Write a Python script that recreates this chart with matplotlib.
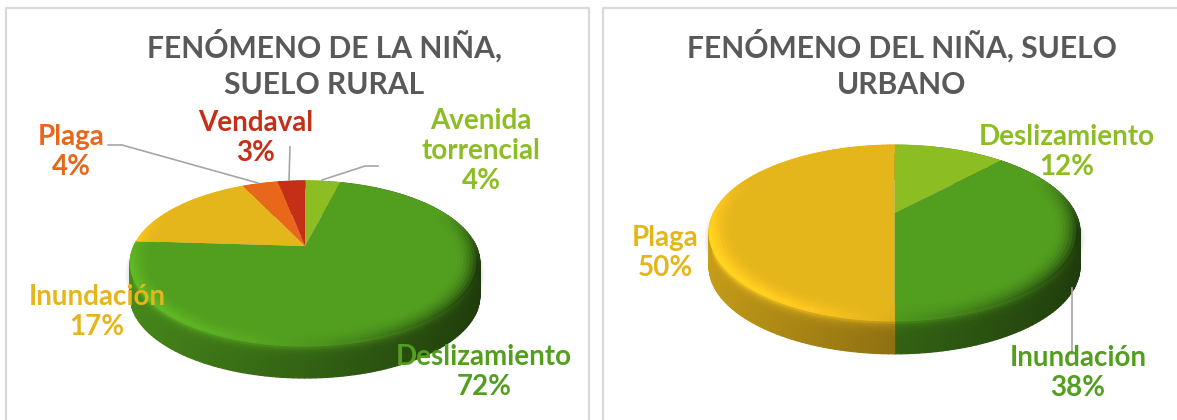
import numpy as np
import matplotlib
matplotlib.use('Agg')
import matplotlib.pyplot as plt
from matplotlib.collections import PolyCollection
from matplotlib.colors import to_rgb
from matplotlib.patches import Ellipse

plt.rcParams['font.family'] = ['Lato', 'DejaVu Sans']

# grafico izquierdo
rural_names = ['Avenida\ntorrencial', 'Deslizamiento', 'Inundación', 'Plaga', 'Vendaval']
rural_values = [4, 72, 17, 4, 3]
rural_colors = ['#8CBD22', '#529E1F', '#E5B51C', '#E8671A', '#C52F17']
rural_title = 'FENÓMENO DE LA NIÑA,\nSUELO RURAL'

# grafico derecho
urban_names = ['Deslizamiento', 'Inundación', 'Plaga']
urban_values = [12, 38, 50]
urban_colors = ['#8CBD22', '#529E1F', '#E5B51C']
urban_title = 'FENÓMENO DEL NIÑA, SUELO\nURBANO'

rural_label_pos = [(481, 151), (484, 372), (97, 312), (71, 152), (256, 138)]
urban_label_pos = [(1067, 152), (1078, 373), (665, 253)]


def project(theta, r, geo):
    # disco unidad -> elipse con perspectiva, theta en sentido horario desde arriba
    cx, cy, a, b, p = geo
    u = r * np.sin(theta)
    v = r * np.cos(theta)
    d = 1 + p * v
    return cx + a * u / d, cy - b * v / d


def shade(color, f):
    return tuple(np.clip(np.array(to_rgb(color)) * f, 0, 1))


def draw_pie(ax, values, colors, geo, depth, shadow_y):
    cx, cy, a, b, p = geo
    rx = a / np.sqrt(1 - p ** 2)
    ry = b / (1 - p ** 2)
    mid_y = cy - p * ry

    # sombra
    for k in range(10):
        ax.add_patch(Ellipse((cx, mid_y + shadow_y), 2 * rx + 10 - k * 2, 2 * ry + 10 - k * 2,
                             fc='#8A8A9A', ec='none', alpha=0.05, zorder=1))

    edges = np.cumsum([0] + list(values)) / sum(values) * 2 * np.pi
    side_polys, side_cols, ring_polys, ring_cols = [], [], [], []
    layers = 14
    for i, col in enumerate(colors):
        n = max(int((edges[i + 1] - edges[i]) / np.radians(1.5)), 2)
        th = np.linspace(edges[i], edges[i + 1], n + 1)

        # pared lateral
        x, y = project(th, 1, geo)
        for j in range(n):
            t = (np.sin((th[j] + th[j + 1]) / 2) + 1) / 2
            rim = 1.18 - 0.85 * t ** 2
            wall = 0.88 - 0.52 * t
            for k in range(layers):
                d0, d1 = depth * k / layers, depth * (k + 1) / layers
                side_polys.append([(x[j], y[j] + d0), (x[j + 1], y[j + 1] + d0),
                                   (x[j + 1], y[j + 1] + d1), (x[j], y[j] + d1)])
                side_cols.append(shade(col, wall + (rim - wall) * np.exp(-k / 1.6)))

        # cara superior
        ax.fill(np.r_[cx, x], np.r_[cy, y], color=col, lw=0, zorder=4)

        # bisel del borde
        rings = np.linspace(0.86, 1.0, 9)
        for j in range(n):
            mid = (th[j] + th[j + 1]) / 2
            t = (np.sin(mid) + 1) / 2
            strength = np.clip((0.45 - np.cos(mid)) / 0.7, 0, 1)
            gain = 1.18 - 0.85 * t ** 2
            for k in range(8):
                x0, y0 = project(th[j:j + 2], rings[k], geo)
                x1, y1 = project(th[j:j + 2], rings[k + 1], geo)
                ring_polys.append([(x0[0], y0[0]), (x0[1], y0[1]), (x1[1], y1[1]), (x1[0], y1[0])])
                s = (k / 7) ** 2
                ring_cols.append(shade(col, 1 + strength * s * (gain - 1)))

    ax.add_collection(PolyCollection(side_polys, facecolors=side_cols, edgecolors=side_cols,
                                     linewidths=0.9, zorder=3))
    ax.add_collection(PolyCollection(ring_polys, facecolors=ring_cols, edgecolors=ring_cols,
                                     linewidths=0.6, zorder=5))


def draw_labels(ax, names, values, colors, positions):
    for name, val, col, (x, y) in zip(names, values, colors, positions):
        ax.text(x, y, f'{name}\n{val}%', color=col, ha='center', va='center', fontsize=20,
                fontweight='bold', linespacing=1.2, zorder=8)


fig = plt.figure(figsize=(11.77, 4.2), dpi=100)
ax = fig.add_axes([0, 0, 1, 1])
ax.set_xlim(0, 1177)
ax.set_ylim(420, 0)
ax.axis('off')

# marcos de las tarjetas
frame = '#D9D9D9'
ax.plot([5.5, 5.5, 589, 589], [420, 7.5, 7.5, 420], color=frame, lw=1.6, zorder=0)
ax.plot([602.5, 602.5, 1177], [420, 7.5, 7.5], color=frame, lw=1.6, zorder=0)

draw_pie(ax, rural_values, rural_colors, (305, 246, 171, 78.5, 0.207), 33, 45)
draw_pie(ax, urban_values, urban_colors, (894.5, 213, 180.8, 83, 0.223), 34, 46)

# lineas guia
guide = '#A6A6A6'
ax.plot([108, 122, 258], [145, 145, 183], color=guide, lw=1.2, zorder=7)
ax.plot([290, 289], [147, 180], color=guide, lw=1.2, zorder=7)
ax.plot([378, 365, 322], [166, 166, 180], color=guide, lw=1.2, zorder=7)
ax.plot([1072, 1072], [288, 354], color=guide, lw=1.2, zorder=7)

draw_labels(ax, rural_names, rural_values, rural_colors, rural_label_pos)
draw_labels(ax, urban_names, urban_values, urban_colors, urban_label_pos)

ax.text(324.5, 64, rural_title, color='#595959', ha='center', va='center', fontsize=21.6,
        fontweight='bold', linespacing=1.4)
ax.text(902, 64, urban_title, color='#595959', ha='center', va='center', fontsize=21.6,
        fontweight='bold', linespacing=1.4)

fig.savefig('out.png', dpi=100)
